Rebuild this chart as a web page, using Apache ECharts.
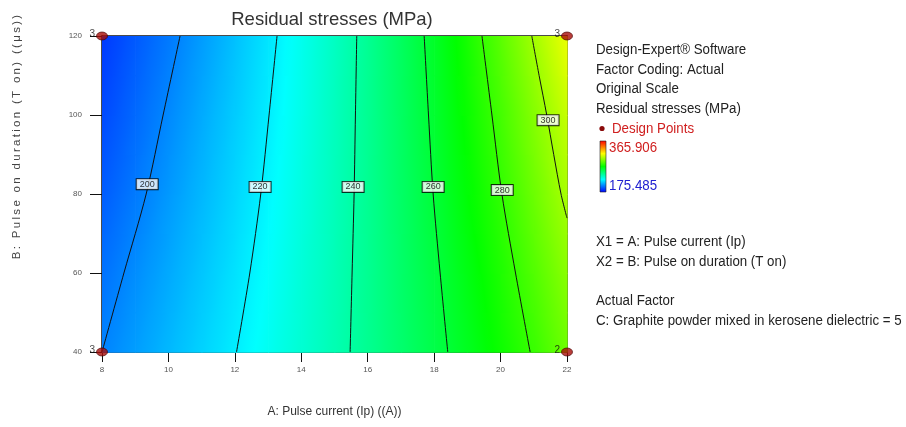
<!DOCTYPE html>
<html>
<head>
<meta charset="utf-8">
<script src="https://cdn.jsdelivr.net/npm/echarts@6/dist/echarts.min.js"></script>
<style>
  html, body { margin: 0; padding: 0; background: #fff; }
  #chart { width: 906px; height: 427px; }
</style>
</head>
<body>
<div id="chart"></div>
<script>
// factor levels (A: pulse current, B: pulse on duration)
const currentTicks = [8, 10, 12, 14, 16, 18, 20, 22];
const durationTicks = [40, 60, 80, 100, 120];

// response surface: one row per duration, one value per current
const currentGrid = [8, 9, 10, 11, 12, 13, 14, 15, 16, 17, 18, 19, 20, 21, 22];
const durationGrid = [40, 50, 60, 70, 80, 90, 100, 110, 120];
const stressRows = [
    [200.0, 204.9, 209.9, 214.8, 219.8, 225.6, 231.4, 237.3, 243.6, 250.4, 257.2, 264.8, 272.9, 280.9, 291.0],
    [198.3, 203.4, 208.5, 213.6, 218.8, 224.6, 230.8, 237.0, 243.6, 250.8, 257.9, 266.0, 274.5, 283.4, 293.7],
    [196.6, 201.8, 207.1, 212.4, 217.7, 223.6, 230.1, 236.6, 243.5, 251.1, 258.6, 267.2, 276.0, 285.8, 296.3],
    [194.7, 200.0, 205.5, 211.1, 216.6, 222.6, 229.4, 236.2, 243.5, 251.5, 259.5, 268.6, 277.8, 288.3, 299.2],
    [192.7, 198.2, 203.9, 209.7, 215.5, 221.6, 228.7, 235.8, 243.4, 251.8, 260.3, 269.9, 279.6, 290.8, 302.0],
    [190.9, 196.6, 202.5, 208.5, 214.5, 220.7, 228.0, 235.5, 243.4, 252.2, 261.1, 271.1, 281.4, 293.1, 304.8],
    [189.0, 195.0, 201.0, 207.3, 213.5, 219.8, 227.2, 235.2, 243.4, 252.5, 261.8, 272.3, 283.2, 295.3, 307.5],
    [187.5, 193.5, 199.5, 205.9, 212.4, 219.0, 226.7, 234.8, 243.4, 252.8, 262.6, 273.6, 285.4, 298.1, 311.3],
    [186.0, 192.0, 198.0, 204.5, 211.3, 218.2, 226.1, 234.4, 243.3, 253.1, 263.4, 274.9, 287.5, 300.9, 315.0]
];
const stressMin = 175.485;
const stressMax = 365.906;

// contour lines: [current, duration] points
const contour200 = [[8.00, 40], [8.66, 60], [9.33, 80], [9.84, 100], [10.35, 120]];
const contour220 = [[12.05, 40], [12.45, 60], [12.78, 80], [13.03, 100], [13.27, 120]];
const contour240 = [[15.47, 40], [15.53, 60], [15.59, 80], [15.63, 100], [15.67, 120]];
const contour260 = [[18.41, 40], [18.18, 60], [17.97, 80], [17.83, 100], [17.70, 120]];
const contour280 = [[20.89, 40], [20.45, 60], [20.04, 80], [19.74, 100], [19.44, 120]];
const contour300 = [[22.00, 73.9], [21.82, 80], [21.60, 90], [21.39, 100], [21.16, 110], [20.94, 120]];
const contourLabels = [
    [9.36, 82.5, '200'], [12.76, 81.8, '220'], [15.56, 81.8, '240'],
    [17.97, 81.8, '260'], [20.05, 81.0, '280'], [21.43, 98.7, '300']
];

// design points at the corners with their replicate counts
const designPoints = [[8, 40, '3'], [8, 120, '3'], [22, 120, '3'], [22, 40, '2']];

const fontMain = "'Liberation Sans', Arial, sans-serif";
const legendFont = '13.3px ' + fontMain;

// blue - cyan - green - yellow - red, like Design-Expert
const colorStops = [[0, 0, 255], [0, 255, 255], [0, 255, 0], [255, 255, 0], [255, 0, 0]];
function stressColor(v) {
    let t = (v - stressMin) / (stressMax - stressMin);
    t = Math.max(0, Math.min(1, t)) * (colorStops.length - 1);
    const i = Math.min(Math.floor(t), colorStops.length - 2);
    const f = t - i;
    const a = colorStops[i], b = colorStops[i + 1];
    const c = a.map((x, k) => Math.round(x + (b[k] - x) * f));
    return 'rgb(' + c.join(',') + ')';
}

// one cell between neighbouring grid columns and rows, with its four corner values
const cells = [];
for (let j = 0; j < durationGrid.length - 1; j++) {
    for (let i = 0; i < currentGrid.length - 1; i++) {
        cells.push([
            currentGrid[i], currentGrid[i + 1], durationGrid[j], durationGrid[j + 1],
            stressRows[j][i], stressRows[j][i + 1], stressRows[j + 1][i], stressRows[j + 1][i + 1]
        ]);
    }
}

// shade each cell with a gradient running across its contours
function renderCell(params, api) {
    const pA = api.coord([api.value(0), api.value(3)]);
    const pB = api.coord([api.value(1), api.value(2)]);
    const v00 = api.value(4), v10 = api.value(5), v01 = api.value(6), v11 = api.value(7);
    const w = pB[0] - pA[0], h = pB[1] - pA[1];
    const gx = ((v10 - v00) + (v11 - v01)) / 2 / w;
    const gy = ((v00 - v01) + (v10 - v11)) / 2 / h;
    const vc = (v00 + v10 + v01 + v11) / 4;
    const cx = pA[0] + w / 2, cy = pA[1] + h / 2;
    const gm = Math.hypot(gx, gy) || 1e-6;
    const ux = gx / gm, uy = gy / gm;
    const L = Math.hypot(w, h) / 2;
    const v0 = vc - gm * L, v1 = vc + gm * L;
    const stops = [];
    for (let k = 0; k <= 8; k++) {
        stops.push({ offset: k / 8, color: stressColor(v0 + (v1 - v0) * k / 8) });
    }
    return {
        type: 'rect',
        shape: { x: pA[0], y: pA[1], width: w + 0.7, height: h + 0.7 },
        style: {
            fill: {
                type: 'linear', global: true,
                x: cx - ux * L, y: cy - uy * L, x2: cx + ux * L, y2: cy + uy * L,
                colorStops: stops
            }
        }
    };
}

function contourSeries(data) {
    return {
        type: 'line', data: data, smooth: 0.3, symbol: 'none', silent: true, z: 3,
        lineStyle: { color: '#111', width: 1 }
    };
}

function legendText(x, y, text, color, middle) {
    return {
        type: 'text', x: x, y: y, scaleY: 1.15,
        style: { text: text, font: legendFont, fill: color, lineHeight: 17, verticalAlign: middle ? 'middle' : 'top' }
    };
}

const chart = echarts.init(document.getElementById('chart'));
const option = {
    animation: false,
    grid: { left: 102, right: 339, top: 36, bottom: 75 },
    xAxis: [{
        type: 'value', min: 8, max: 22, interval: 2,
        axisLine: { lineStyle: { color: '#111', width: 1.5 } },
        axisTick: { length: 10, lineStyle: { color: '#111' } },
        axisLabel: { fontSize: 8, color: '#555', margin: 14, fontFamily: fontMain },
        splitLine: { show: false },
        name: 'A: Pulse current (Ip) ((A))', nameLocation: 'middle', nameGap: 54,
        nameTextStyle: { fontSize: 12, color: '#333', fontFamily: fontMain }
    }, {
        type: 'value', min: 8, max: 22, position: 'top',
        axisLine: { show: true, lineStyle: { color: '#111', width: 1.5 } },
        axisTick: { show: false }, axisLabel: { show: false }, splitLine: { show: false }
    }],
    yAxis: [{
        type: 'value', min: 40, max: 120, interval: 20,
        axisLine: { show: true, lineStyle: { color: '#111', width: 1.5 } },
        axisTick: { show: true, length: 12, lineStyle: { color: '#111' } },
        axisLabel: { fontSize: 8, color: '#555', margin: 20, fontFamily: fontMain },
        splitLine: { show: false }
    }, {
        type: 'value', min: 40, max: 120, position: 'right',
        axisLine: { show: true, lineStyle: { color: '#111', width: 1.5 } },
        axisTick: { show: false }, axisLabel: { show: false }, splitLine: { show: false }
    }],
    series: [
        {
            type: 'custom', data: cells, renderItem: renderCell, silent: true, z: 1,
            encode: { x: [0, 1], y: [2, 3] }
        },
        contourSeries(contour200),
        contourSeries(contour220),
        contourSeries(contour240),
        contourSeries(contour260),
        contourSeries(contour280),
        contourSeries(contour300),
        {
            type: 'scatter', data: contourLabels, symbolSize: 0, silent: true, z: 5,
            label: {
                show: true, position: 'inside', formatter: p => p.value[2],
                fontSize: 9, color: '#000', fontFamily: fontMain,
                backgroundColor: '#fff', borderColor: '#000', borderWidth: 1, padding: [1, 3, 0, 3]
            }
        },
        {
            type: 'scatter', data: designPoints, symbol: 'circle', symbolSize: [11, 8], clip: false, z: 6,
            itemStyle: { color: '#a80e0a', borderColor: '#400', borderWidth: 0.8 },
            label: {
                show: true, position: 'left', distance: 1, offset: [0, -2], formatter: p => p.value[2],
                fontSize: 10, color: '#111', fontFamily: fontMain
            }
        }
    ],
    graphic: [
        {
            type: 'text', x: 332, y: 20,
            style: { text: 'Residual stresses (MPa)', font: '18.5px ' + fontMain, fill: '#333', align: 'center', verticalAlign: 'middle' }
        },
        {
            type: 'text', x: 17, y: 137, rotation: Math.PI / 2,
            style: {
                text: 'B: Pulse on duration (T on) ((\u03bcs))'.split('').join('\u2009'),
                font: '11.5px ' + fontMain, fill: '#444', align: 'center', verticalAlign: 'middle'
            }
        },
        legendText(596, 40, 'Design-Expert\u00ae Software\nFactor Coding: Actual\nOriginal Scale\nResidual stresses (MPa)', '#222'),
        { type: 'circle', shape: { cx: 602, cy: 128.5, r: 2.6 }, style: { fill: '#8a0b0b' } },
        legendText(612, 128.5, 'Design Points', '#d02020', true),
        {
            type: 'rect', shape: { x: 600, y: 141, width: 6, height: 51 },
            style: {
                stroke: '#222', lineWidth: 0.6,
                fill: {
                    type: 'linear', x: 0, y: 0, x2: 0, y2: 1,
                    colorStops: [
                        { offset: 0, color: stressColor(stressMax) },
                        { offset: 0.25, color: stressColor(stressMin + 0.75 * (stressMax - stressMin)) },
                        { offset: 0.5, color: stressColor(stressMin + 0.5 * (stressMax - stressMin)) },
                        { offset: 0.75, color: stressColor(stressMin + 0.25 * (stressMax - stressMin)) },
                        { offset: 1, color: stressColor(stressMin) }
                    ]
                }
            }
        },
        legendText(609, 148, stressMax.toFixed(3), '#d02020', true),
        legendText(609, 186, stressMin.toFixed(3), '#2020d0', true),
        legendText(596, 232, 'X1 = A: Pulse current (Ip)\nX2 = B: Pulse on duration (T on)', '#222'),
        legendText(596, 291, 'Actual Factor\nC: Graphite powder mixed in kerosene dielectric = 5', '#222')
    ]
};
chart.setOption(option);
</script>
</body>
</html>
